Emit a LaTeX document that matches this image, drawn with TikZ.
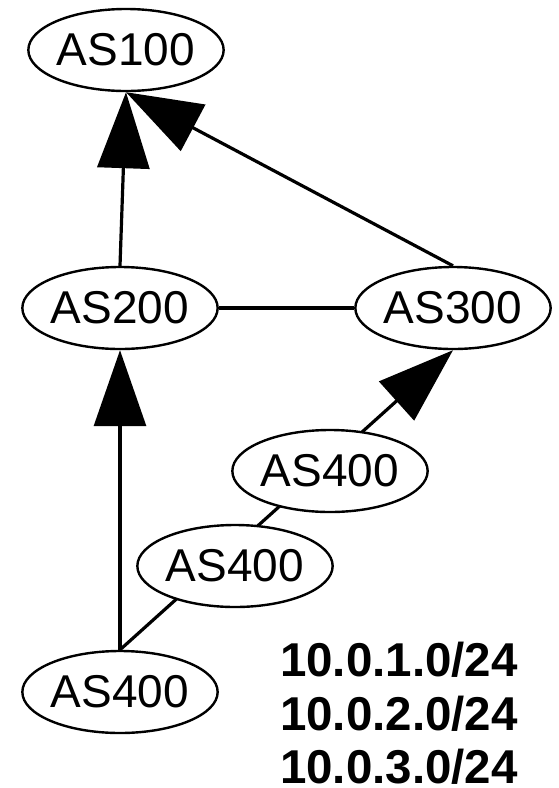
\documentclass[tikz,border=0pt]{standalone}
\usepackage{fontspec}
\setmainfont{Liberation Sans}
\usetikzlibrary{arrows.meta,shapes.geometric,backgrounds}
\begin{document}
\begin{tikzpicture}[x=1pt,y=-1pt,
  asnode/.style={ellipse,draw,line width=2.4pt,fill=white,inner sep=0pt,
    minimum width=194pt,minimum height=82pt,font=\fontsize{46}{50}\selectfont},
  link/.style={line width=3.2pt},
  arr/.style={line width=3.2pt,-{Triangle[length=76pt,width=52pt]}},
  netprefix/.style={anchor=base east,inner sep=0pt,font=\fontsize{47.5}{50}\selectfont\bfseries}]
\useasboundingbox (0,0) rectangle (559,788);
\node[asnode] (a100) at (126,50) {AS100};
\node[asnode] (a200) at (120,308) {AS200};
\node[asnode] (a300) at (453,308) {AS300};
\node[asnode] (a400c) at (330,471) {AS400};
\node[asnode] (a400b) at (235,566) {AS400};
\node[asnode] (a400a) at (120,692) {AS400};
\node[netprefix] (t1) at (518,676) {10.0.1.0/24};
\node[netprefix] (t2) at (518,730) {10.0.2.0/24};
\node[netprefix] (t3) at (518,783) {10.0.3.0/24};
\begin{scope}[on background layer]
\draw[arr] (a200.north) -- (a100.south);
\draw[arr] (a300.north) -- (a100.south);
\draw[link] (a200.east) -- (a300.west);
\draw[arr] (a400a.north) -- (a200.south);
\draw[arr] (a400a.north) -- (a300.south);
\end{scope}
\end{tikzpicture}
\end{document}
